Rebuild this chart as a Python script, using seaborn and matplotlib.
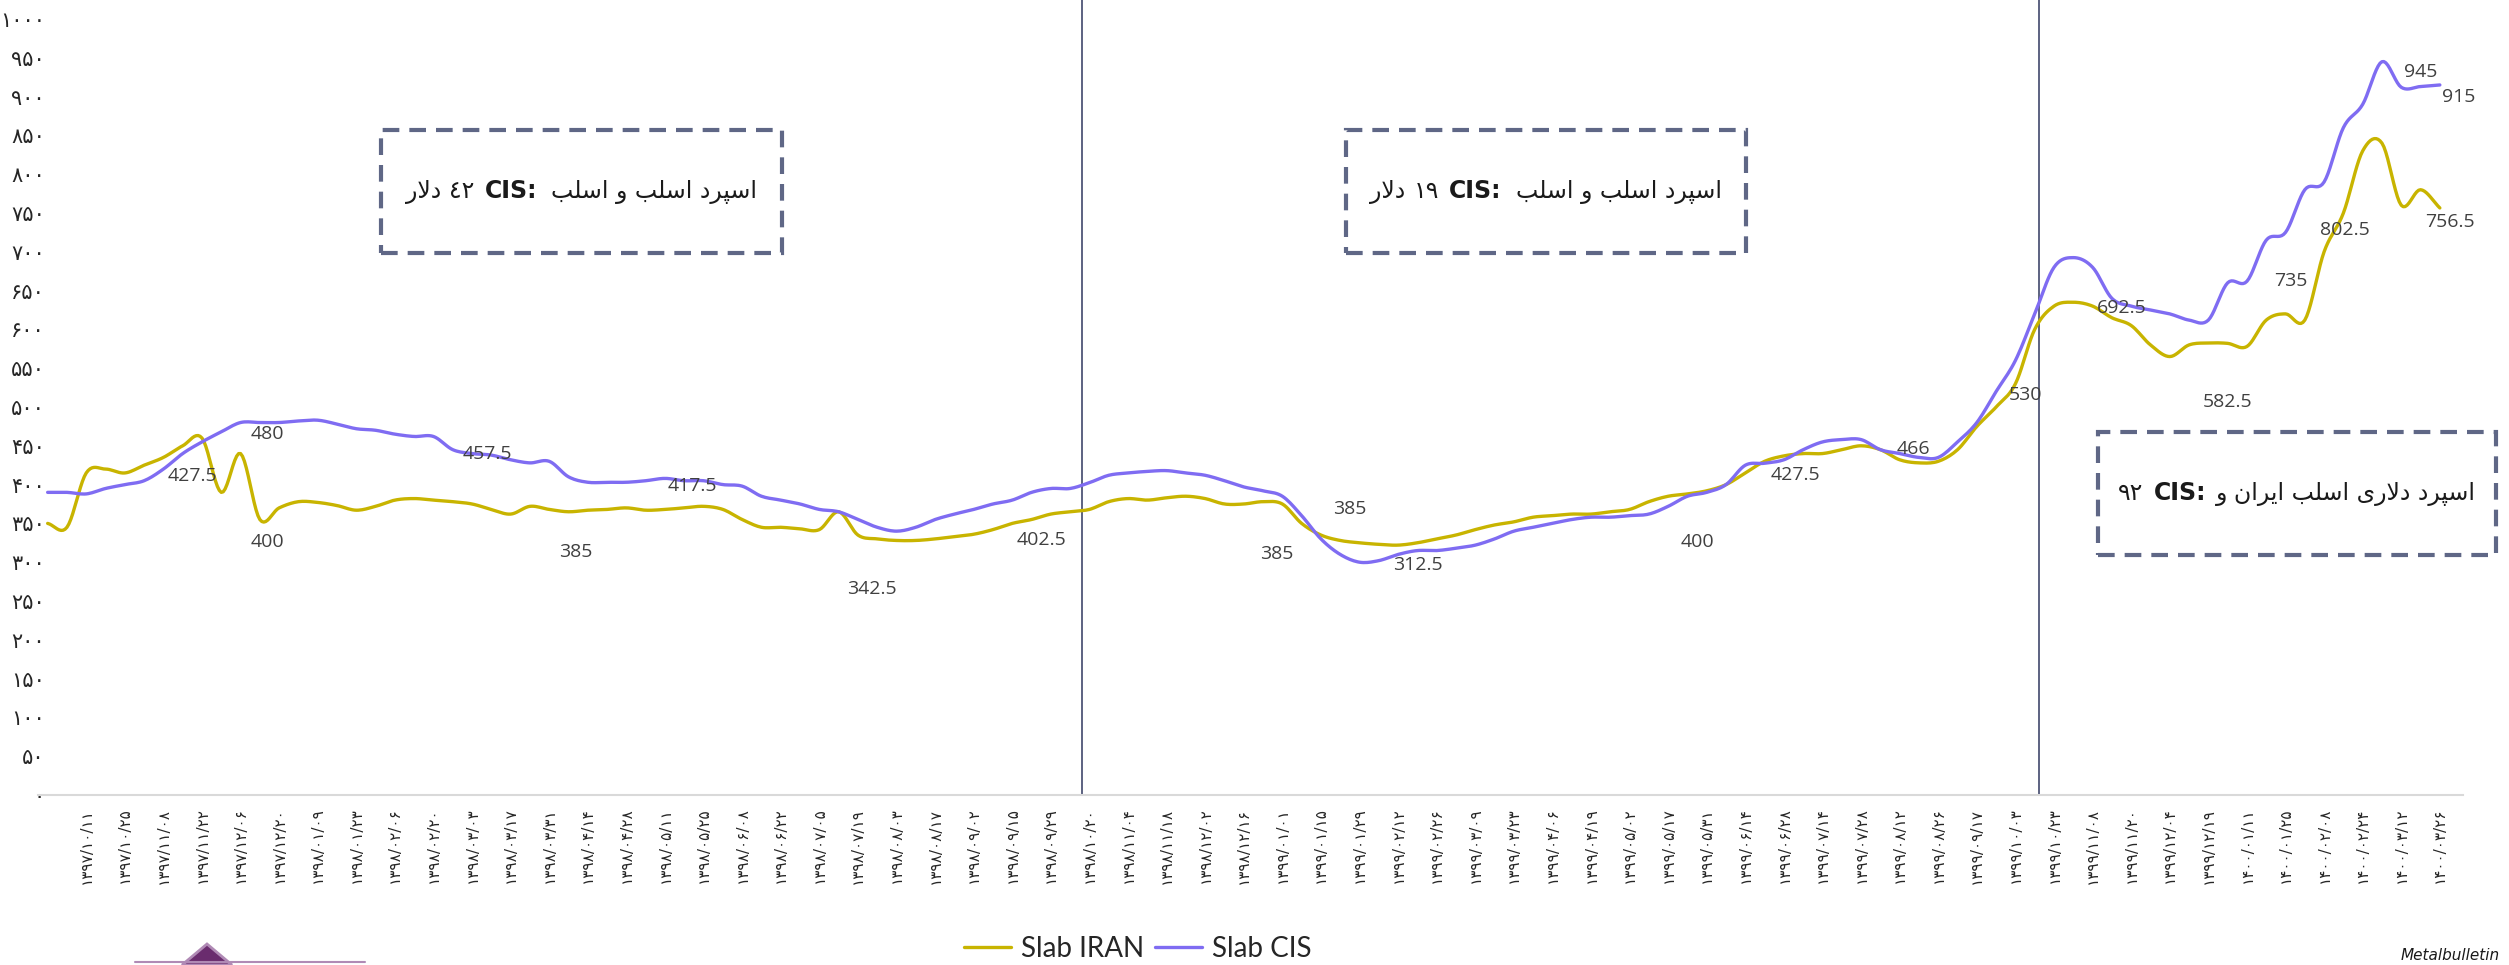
import matplotlib
matplotlib.use("Agg")
import matplotlib.pyplot as plt
import numpy as np
import seaborn as sns
from matplotlib.patches import Rectangle, Polygon

# ---- data ----
tick_dates = [
    "1397/10/11", "1397/10/25", "1397/11/08", "1397/11/22", "1397/12/06", "1397/12/20",
    "1398/01/09", "1398/01/23", "1398/02/06", "1398/02/20", "1398/03/03", "1398/03/17",
    "1398/03/31", "1398/04/14", "1398/04/28", "1398/05/11", "1398/05/25", "1398/06/08",
    "1398/06/22", "1398/07/05", "1398/07/19", "1398/08/03", "1398/08/17", "1398/09/02",
    "1398/09/15", "1398/09/29", "1398/10/20", "1398/11/04", "1398/11/18", "1398/12/02",
    "1398/12/16", "1399/01/01", "1399/01/15", "1399/01/29", "1399/02/12", "1399/02/26",
    "1399/03/09", "1399/03/23", "1399/04/06", "1399/04/19", "1399/05/02", "1399/05/17",
    "1399/05/31", "1399/06/14", "1399/06/28", "1399/07/14", "1399/07/28", "1399/08/12",
    "1399/08/26", "1399/09/17", "1399/10/03", "1399/10/23", "1399/11/08", "1399/11/20",
    "1399/12/04", "1399/12/19", "1400/01/11", "1400/01/25", "1400/02/08", "1400/02/24",
    "1400/03/12", "1400/03/26",
]

slab_iran = [
    350, 345, 415, 420, 415, 425, 435, 450, 460, 390, 440, 355, 370, 378, 377, 373,
    367, 372, 380, 382, 380, 378, 375, 368, 362, 372, 368, 365, 367, 368, 370, 367,
    368, 370, 372, 368, 355, 345, 345, 343, 342, 365, 335, 330, 328, 328, 330, 333,
    336, 342, 350, 355, 362, 365, 368, 378, 382, 380, 383, 385, 382, 375, 375, 378,
    375, 350, 335, 328, 325, 323, 322, 325, 330, 335, 342, 348, 352, 358, 360, 362,
    362, 365, 368, 378, 385, 388, 392, 400, 415, 430, 437, 440, 440, 445, 450, 445,
    432, 428, 430, 445, 475, 500, 530, 600, 630, 635, 630, 615, 605, 580, 565, 580,
    582.5, 582, 578, 612, 620, 612, 700, 750, 830, 840, 760, 780, 756.5,
]

slab_cis = [
    390, 390, 388, 395, 400, 405, 420, 440, 455, 468, 480, 480, 480, 482, 483, 478,
    472, 470, 465, 462, 462, 445, 440, 438, 432, 428, 430, 410, 403, 403, 403, 405,
    408, 405, 405, 400, 398, 385, 380, 375, 368, 365, 355, 345, 340, 345, 355, 362,
    368, 375, 380, 390, 395, 395, 402.5, 412, 415, 417, 418, 415, 412, 405, 397, 392,
    385, 360, 330, 310, 300, 302, 310, 315, 315, 318, 322, 330, 340, 345, 350, 355,
    358, 358, 360, 362, 372, 385, 390, 400, 425, 427.5, 432, 445, 455, 458, 458, 445,
    440, 435, 435, 455, 480, 520, 560, 620, 680, 692.5, 680, 640, 630, 625, 620, 612,
    612, 660, 662, 715, 725, 780, 790, 860, 890, 945, 912, 913, 915,
]

label_texts = ["427.5", "480", "400", "457.5", "385", "417.5", "342.5", "402.5", "385",
               "385", "312.5", "400", "427.5", "466", "530", "692.5", "582.5", "735",
               "802.5", "945", "915", "756.5"]
label_x = [7.5, 11.4, 11.4, 22.8, 27.4, 33.4, 42.7, 51.5, 63.7, 67.5, 71.0, 85.5, 90.6,
           96.7, 102.5, 107.5, 113.0, 116.3, 119.1, 123.0, 125.0, 124.5]
label_y = [411, 465, 326, 440, 313, 398, 266, 328, 311, 369, 297, 326, 413, 446, 515,
           627, 506, 662, 728, 932, 900, 739]

divider_x = [53.6, 103.2]

FA_DIGITS = str.maketrans("0123456789", "۰۱۲۳۴۵۶۷۸۹")

# isolated, final, initial, medial
AR_FORMS = {
    "ا": ("\ufe8d", "\ufe8e", None, None),
    "ب": ("\ufe8f", "\ufe90", "\ufe91", "\ufe92"),
    "پ": ("\ufb56", "\ufb57", "\ufb58", "\ufb59"),
    "د": ("\ufea9", "\ufeaa", None, None),
    "ر": ("\ufead", "\ufeae", None, None),
    "س": ("\ufeb1", "\ufeb2", "\ufeb3", "\ufeb4"),
    "ل": ("\ufedd", "\ufede", "\ufedf", "\ufee0"),
    "و": ("\ufeed", "\ufeee", None, None),
    "ی": ("\ufbfc", "\ufbfd", "\ufbfe", "\ufbff"),
    "ن": ("\ufee5", "\ufee6", "\ufee7", "\ufee8"),
}


def rtl(text):
    """Shape a run of Persian letters and return it in visual (left-to-right) order."""
    glyphs = []
    i = 0
    n = len(text)
    while i < n:
        c = text[i]
        if c not in AR_FORMS:
            glyphs.append(c)
            i += 1
            continue
        prev = text[i - 1] if i > 0 else None
        joins_prev = prev in AR_FORMS and AR_FORMS[prev][2] is not None
        if c == "ل" and i + 1 < n and text[i + 1] == "ا":
            glyphs.append("\ufefc" if joins_prev else "\ufefb")
            i += 2
            continue
        nxt = text[i + 1] if i + 1 < n else None
        iso, fin, ini, med = AR_FORMS[c]
        joins_next = ini is not None and nxt in AR_FORMS
        if joins_prev and joins_next:
            g = med
        elif joins_prev:
            g = fin
        elif joins_next:
            g = ini
        else:
            g = iso
        glyphs.append(g)
        i += 1
    return "".join(reversed(glyphs))


def smooth(xs, ys, n=10):
    # Excel-style smoothed line (Catmull-Rom through the data points)
    x = np.asarray(xs, float)
    y = np.asarray(ys, float)
    xp = np.concatenate([[2 * x[0] - x[1]], x, [2 * x[-1] - x[-2]]])
    yp = np.concatenate([[2 * y[0] - y[1]], y, [2 * y[-1] - y[-2]]])
    t = np.linspace(0, 1, n, endpoint=False)[:, None]
    out_x, out_y = [], []
    for arr, out in ((xp, out_x), (yp, out_y)):
        p0, p1, p2, p3 = arr[:-3], arr[1:-2], arr[2:-1], arr[3:]
        seg = 0.5 * ((2 * p1) + (-p0 + p2) * t + (2 * p0 - 5 * p1 + 4 * p2 - p3) * t ** 2
                     + (-p0 + 3 * p1 - 3 * p2 + p3) * t ** 3)
        out.extend(seg.T.ravel().tolist())
        out.append(arr[-2])
    return np.array(out_x), np.array(out_y)


def mixed_text(fig, xc, yc, parts, size):
    """Centre a row of text pieces (text, weight, gap after in px) on (xc, yc) figure coords."""
    renderer = fig.canvas.get_renderer()
    arts, widths = [], []
    for txt, weight, gap in parts:
        a = fig.text(0, yc, txt, fontsize=size, fontweight=weight, ha="left", va="center",
                     color="#1a1a1a")
        arts.append(a)
        widths.append((a.get_window_extent(renderer).width + gap) / fig.bbox.width)
    x = xc - sum(widths) / 2
    for a, w in zip(arts, widths):
        a.set_x(x)
        x += w


sns.set_theme(style="white")
plt.rcParams["font.family"] = ["DejaVu Sans"]

W, H = 2509, 965
fig = plt.figure(figsize=(W / 100, H / 100), dpi=100)
ax = fig.add_axes([38 / W, 1 - 795 / H, (2463 - 38) / W, (795 - 19) / H])

idx = np.arange(len(slab_iran))
IRAN_C = "#c8b400"
CIS_C = "#7f6cf2"

sx, sy = smooth(idx, slab_iran)
sns.lineplot(x=sx, y=sy, sort=False, estimator=None, color=IRAN_C, lw=2.4, ax=ax,
             label="Slab IRAN")
sx, sy = smooth(idx, slab_cis)
sns.lineplot(x=sx, y=sy, sort=False, estimator=None, color=CIS_C, lw=2.4, ax=ax,
             label="Slab CIS")

for xv in divider_x:
    ax.axvline(xv, ymin=0, ymax=1.025, color="#4f5677", lw=1.3, zorder=1, clip_on=False)

for t, xv, yv in zip(label_texts, label_x, label_y):
    ax.text(xv, yv, t, ha="center", va="center", fontsize=14, color="#404040",
            family="Open Sans")

ax.set_xlim(-0.5, 125.2)
ax.set_ylim(0, 1000)
yt = np.arange(0, 1001, 50)
ax.set_yticks(yt)
ax.set_yticklabels([str(v).translate(FA_DIGITS) for v in yt], fontsize=15)
xt = np.arange(2, 2 + 2 * len(tick_dates), 2)
ax.set_xticks(xt)
ax.set_xticklabels([d.translate(FA_DIGITS) for d in tick_dates], rotation=90, fontsize=11)
ax.tick_params(axis="both", length=0)
ax.tick_params(axis="x", pad=9)
ax.tick_params(axis="y", pad=-5)
for side in ["left", "right", "top"]:
    ax.spines[side].set_visible(False)
ax.spines["bottom"].set_color("#d9d9d9")
ax.spines["bottom"].set_linewidth(1.5)

ax.legend(loc="center", bbox_to_anchor=(0.4535, 0.017), bbox_transform=fig.transFigure,
          ncol=2, frameon=False, handlelength=1.7, handletextpad=0.35, columnspacing=0.4,
          prop={"family": "Lato", "size": 20})

# dashed call-out boxes
boxes = [
    ((381, 130, 782, 253), [(rtl("دلار"), "normal", 8), ("٤٢", "normal", 10),
                            ("CIS:", "bold", 14), (rtl("اسپرد اسلب و اسلب"), "normal", 0)]),
    ((1346, 130, 1746, 253), [(rtl("دلار"), "normal", 8), ("۱۹", "normal", 10),
                              ("CIS:", "bold", 14), (rtl("اسپرد اسلب و اسلب"), "normal", 0)]),
    ((2098, 432, 2496, 555), [("۹۲", "normal", 10), ("CIS:", "bold", 10),
                              (rtl("اسپرد دلاری اسلب ایران و"), "normal", 0)]),
]
for (x0, y0, x1, y1), parts in boxes:
    fig.add_artist(Rectangle((x0 / W, 1 - y1 / H), (x1 - x0) / W, (y1 - y0) / H,
                             transform=fig.transFigure, fill=False, edgecolor="#5f6786",
                             lw=3, linestyle=(0, (4, 2.4))))
    mixed_text(fig, (x0 + x1) / 2 / W, 1 - (y0 + y1) / 2 / H, parts, 17)

fig.text(2500 / W, 1 - 956 / H, "Metalbulletin", ha="right", va="center", fontsize=11,
         style="italic", color="#1a1a1a")

# corner of the publisher logo peeking in at bottom-left
fig.add_artist(Polygon([(182 / W, 0), (207 / W, 1 - 944 / H), (232 / W, 0)],
                       closed=True, transform=fig.transFigure, facecolor="#6a2c6e",
                       edgecolor="#b08ab5", lw=2))
fig.add_artist(plt.Line2D([135 / W, 365 / W], [1 - 962 / H, 1 - 962 / H],
                          transform=fig.transFigure, color="#b08ab5", lw=1.5))

fig.savefig("out.png", dpi=100)
